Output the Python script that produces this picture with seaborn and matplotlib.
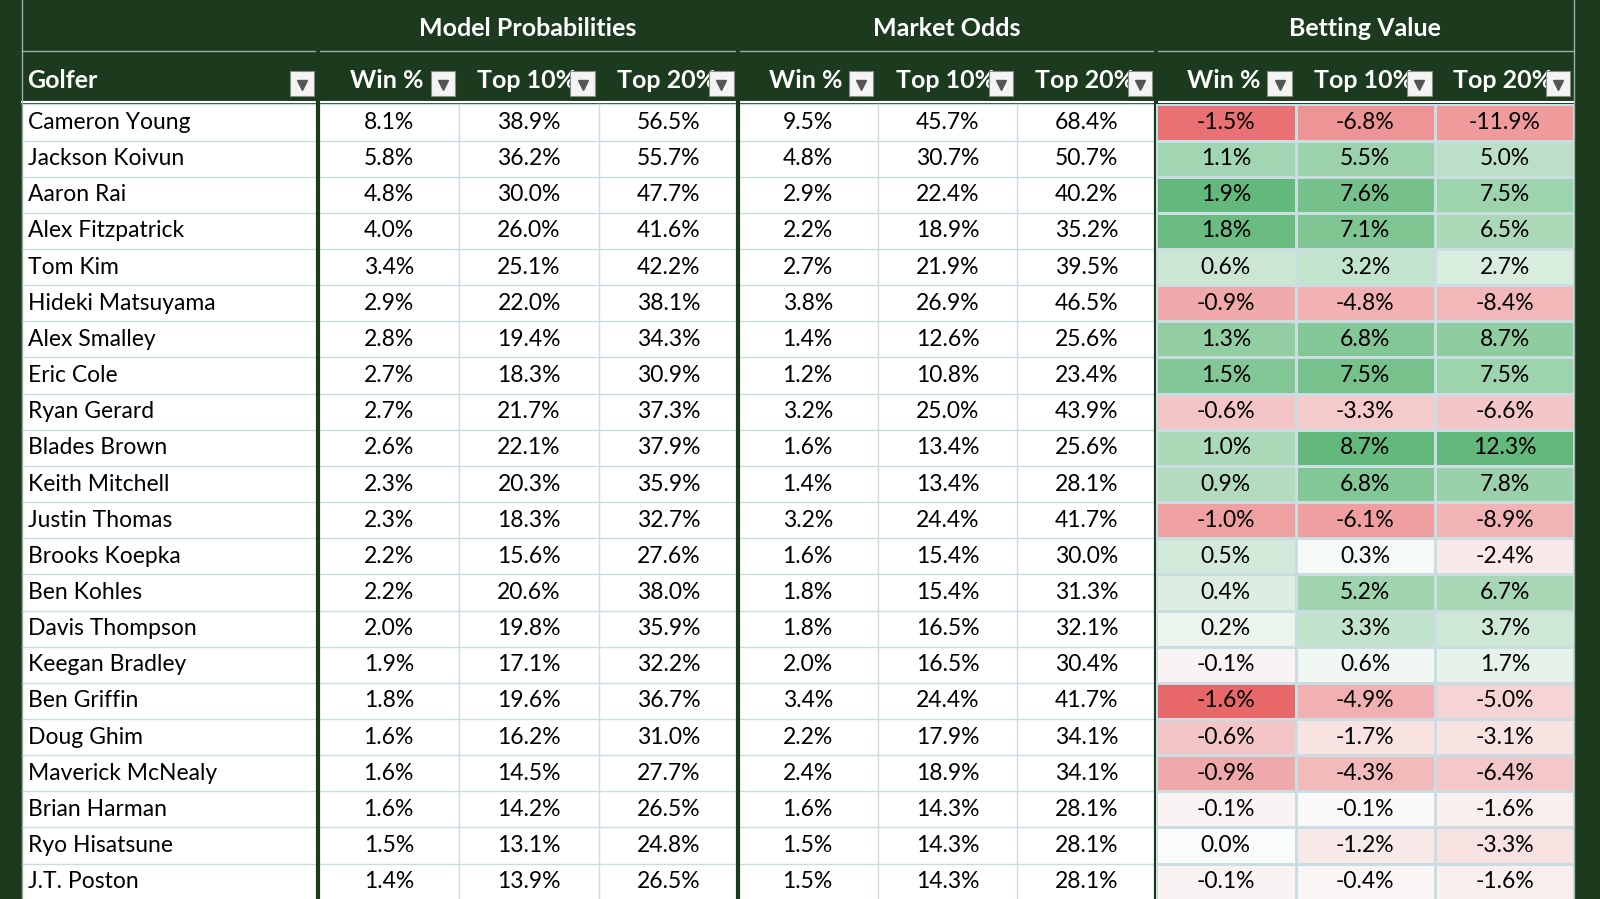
import numpy as np
import pandas as pd
import matplotlib
matplotlib.use("Agg")
import matplotlib.pyplot as plt
import seaborn as sns
from matplotlib.colors import LinearSegmentedColormap
from matplotlib.patches import Rectangle

# Dane tabeli
golfers = ["Cameron Young", "Jackson Koivun", "Aaron Rai", "Alex Fitzpatrick", "Tom Kim",
           "Hideki Matsuyama", "Alex Smalley", "Eric Cole", "Ryan Gerard", "Blades Brown",
           "Keith Mitchell", "Justin Thomas", "Brooks Koepka", "Ben Kohles", "Davis Thompson",
           "Keegan Bradley", "Ben Griffin", "Doug Ghim", "Maverick McNealy", "Brian Harman",
           "Ryo Hisatsune", "J.T. Poston"]
model_win = [8.1, 5.8, 4.8, 4.0, 3.4, 2.9, 2.8, 2.7, 2.7, 2.6, 2.3, 2.3, 2.2, 2.2, 2.0, 1.9, 1.8, 1.6, 1.6, 1.6, 1.5, 1.4]
model_t10 = [38.9, 36.2, 30.0, 26.0, 25.1, 22.0, 19.4, 18.3, 21.7, 22.1, 20.3, 18.3, 15.6, 20.6, 19.8, 17.1, 19.6, 16.2, 14.5, 14.2, 13.1, 13.9]
model_t20 = [56.5, 55.7, 47.7, 41.6, 42.2, 38.1, 34.3, 30.9, 37.3, 37.9, 35.9, 32.7, 27.6, 38.0, 35.9, 32.2, 36.7, 31.0, 27.7, 26.5, 24.8, 26.5]
market_win = [9.5, 4.8, 2.9, 2.2, 2.7, 3.8, 1.4, 1.2, 3.2, 1.6, 1.4, 3.2, 1.6, 1.8, 1.8, 2.0, 3.4, 2.2, 2.4, 1.6, 1.5, 1.5]
market_t10 = [45.7, 30.7, 22.4, 18.9, 21.9, 26.9, 12.6, 10.8, 25.0, 13.4, 13.4, 24.4, 15.4, 15.4, 16.5, 16.5, 24.4, 17.9, 18.9, 14.3, 14.3, 14.3]
market_t20 = [68.4, 50.7, 40.2, 35.2, 39.5, 46.5, 25.6, 23.4, 43.9, 25.6, 28.1, 41.7, 30.0, 31.3, 32.1, 30.4, 41.7, 34.1, 34.1, 28.1, 28.1, 28.1]
value_win = [-1.5, 1.1, 1.9, 1.8, 0.6, -0.9, 1.3, 1.5, -0.6, 1.0, 0.9, -1.0, 0.5, 0.4, 0.2, -0.1, -1.6, -0.6, -0.9, -0.1, 0.0, -0.1]
value_t10 = [-6.8, 5.5, 7.6, 7.1, 3.2, -4.8, 6.8, 7.5, -3.3, 8.7, 6.8, -6.1, 0.3, 5.2, 3.3, 0.6, -4.9, -1.7, -4.3, -0.1, -1.2, -0.4]
value_t20 = [-11.9, 5.0, 7.5, 6.5, 2.7, -8.4, 8.7, 7.5, -6.6, 12.3, 7.8, -8.9, -2.4, 6.7, 3.7, 1.7, -5.0, -3.1, -6.4, -1.6, -3.3, -1.6]

groups = ["Model Probabilities", "Market Odds", "Betting Value"]
sub_headers = ["Win %", "Top 10%", "Top 20%"]

BG = "#1b3a1e"
GRID = "#c9dde3"
W, H = 1568, 881
col_x = [22, 312, 450, 587, 723, 860, 997, 1133, 1270, 1407, 1543]
row_top, row_h = 102.3, 35.43
n = len(golfers)

plt.rcParams["font.family"] = ["Lato", "DejaVu Sans"]
fig = plt.figure(figsize=(16, 8.99), dpi=100, facecolor=BG)
ax = fig.add_axes([0, 0, 1, 1])
ax.set_xlim(0, W)
ax.set_ylim(H, 0)
ax.axis("off")

# białe tło wierszy danych
ax.add_patch(Rectangle((col_x[0], row_top), col_x[-1] - col_x[0], n * row_h, facecolor="white", edgecolor="none"))

numeric = [model_win, model_t10, model_t20, market_win, market_t10, market_t20]
for i in range(n):
    cy = row_top + (i + 0.5) * row_h
    ax.text(col_x[0] + 5, cy, golfers[i], fontsize=16.5, va="center", ha="left", color="black")
    for j, col in enumerate(numeric):
        ax.text((col_x[j + 1] + col_x[j + 2]) / 2, cy, f"{col[i]:.1f}%", fontsize=16.5,
                va="center", ha="center", color="black")

# mapa kolorów dla wartości zakładów (osobna skala na kolumnę)
cmap = LinearSegmentedColormap.from_list("rwg", ["#e8686a", "#fbfcfc", "#63b97b"])
vals = np.array([value_win, value_t10, value_t20]).T
red_scale = [1.0, 0.7, 0.65]
norm_vals = np.zeros_like(vals)
for j in range(3):
    c = vals[:, j]
    norm_vals[:, j] = np.where(c >= 0, 0.5 + 0.5 * c / c.max(), 0.5 - 0.5 * red_scale[j] * c / c.min())
annot = np.array([[f"{v:.1f}%" for v in r] for r in vals])
df = pd.DataFrame(norm_vals, index=golfers, columns=sub_headers)

hax = fig.add_axes([col_x[7] / W, 1 - (row_top + n * row_h) / H,
                    (col_x[10] - col_x[7]) / W, n * row_h / H])
sns.heatmap(df, ax=hax, cmap=cmap, vmin=0, vmax=1, annot=annot, fmt="", cbar=False,
            linewidths=1, linecolor=GRID, annot_kws={"fontsize": 16.5, "color": "black"})
hax.set_xticks([])
hax.set_yticks([])
hax.set_xlabel("")
hax.set_ylabel("")

# linie siatki
for i in range(n + 1):
    y = row_top + i * row_h
    ax.plot([col_x[0], col_x[7]], [y, y], color=GRID, lw=1)
for x in col_x[1:7]:
    ax.plot([x, x], [row_top, H], color=GRID, lw=1)
for x in [col_x[1], col_x[4], col_x[7]]:
    ax.plot([x, x], [0, H], color=BG, lw=3, zorder=5)
for x in [col_x[0], col_x[-1]]:
    ax.plot([x, x], [0, H], color="#9fb2a5", lw=1, zorder=5)
ax.plot([col_x[0], col_x[-1]], [50, 50], color="#9fb2a5", lw=1)
ax.plot([col_x[0], col_x[-1]], [100, 100], color="white", lw=1.5)

# nagłówki
for g, name in enumerate(groups):
    x0, x1 = col_x[1 + 3 * g], col_x[4 + 3 * g]
    ax.text((x0 + x1) / 2, 28, name, fontsize=18, fontweight="bold", color="white", ha="center", va="center")
    for k, sh in enumerate(sub_headers):
        a, b = col_x[1 + 3 * g + k], col_x[2 + 3 * g + k]
        ax.text((a + b) / 2 - 2, 79, sh, fontsize=18, fontweight="bold", color="white", ha="center", va="center")
ax.text(col_x[0] + 5, 79, "Golfer", fontsize=18, fontweight="bold", color="white", ha="left", va="center")

# przyciski filtrów
for j in range(len(col_x) - 1):
    bx = col_x[j + 1] - 28
    ax.add_patch(Rectangle((bx, 70), 24, 24, facecolor="#f4f4f4", edgecolor="#8a8a8a", lw=0.8, zorder=6))
    ax.plot(bx + 12, 83, marker="v", color="#555555", markersize=7, zorder=7)

fig.savefig("out.png", dpi=100, facecolor=BG)
